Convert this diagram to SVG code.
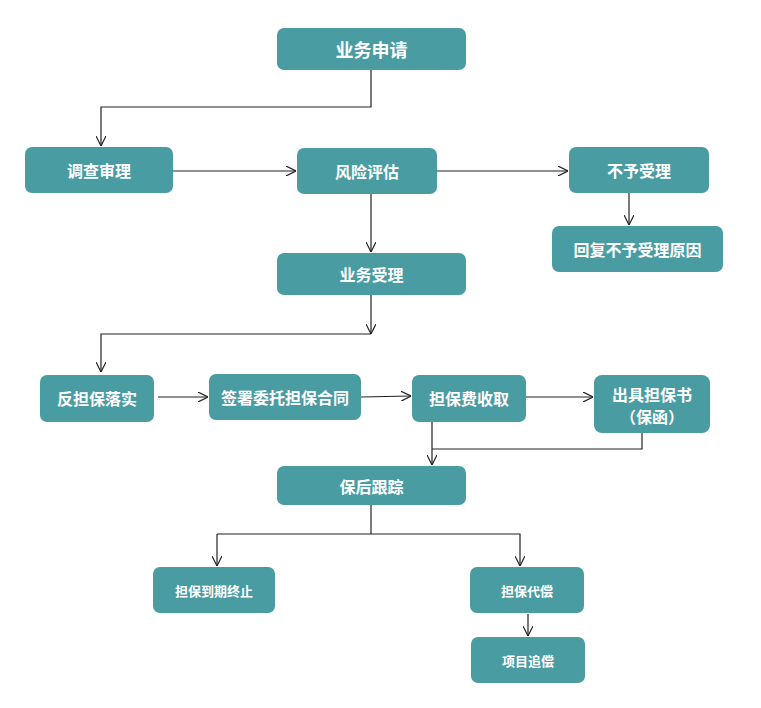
<svg xmlns="http://www.w3.org/2000/svg" width="761" height="708" viewBox="0 0 761 708">
<defs>
<marker id="arr" viewBox="0 0 10 10" refX="10" refY="5" markerWidth="10" markerHeight="10" markerUnits="userSpaceOnUse" orient="auto">
<path d="M0,0 L10,5 L0,10" fill="none" stroke="#222" stroke-width="1.2"/>
</marker>
<style>
.n rect{fill:#4a9ca3;}
.n text{fill:#fff;font-family:"Noto Sans CJK SC","Noto Sans CJK JP",sans-serif;font-weight:bold;text-anchor:middle;dominant-baseline:central;}
.l{font-size:18px;}
.m{font-size:16px;}
.s{font-size:13px;}
.c path{fill:none;stroke:#222;stroke-width:1.2;}
.c .a{marker-end:url(#arr);}
</style>
</defs>
<rect width="761" height="708" fill="#fff"/>
<g class="c">
<path class="a" d="M371,70 V107 H101 V146"/>
<path class="a" d="M173,171 H296"/>
<path class="a" d="M437,171 H568"/>
<path class="a" d="M629,193 V225"/>
<path class="a" d="M371,194 V252"/>
<path class="a" d="M371,295 V334"/>
<path class="a" d="M371,334 H101 V372"/>
<path class="a" d="M158,397 H208"/>
<path class="a" d="M361,397 L411,396"/>
<path class="a" d="M526,397 H593"/>
<path d="M642,433 V449 H432"/>
<path class="a" d="M432,422 V465"/>
<path d="M371,505 V534"/>
<path class="a" d="M217,534 V566"/>
<path class="a" d="M217,534 H520 V566"/>
<path class="a" d="M528,614 V636"/>
</g>
<g id="n1" class="n"><rect x="277" y="28" width="189" height="42" rx="7"/><text class="l" x="371.5" y="49">业务申请</text></g>
<g id="n2" class="n"><rect x="25" y="147" width="148" height="46" rx="7"/><text class="m" x="99" y="170">调查审理</text></g>
<g id="n3" class="n"><rect x="297" y="148" width="140" height="46" rx="7"/><text class="m" x="367" y="171">风险评估</text></g>
<g id="n4" class="n"><rect x="569" y="147" width="140" height="46" rx="7"/><text class="m" x="639" y="170">不予受理</text></g>
<g id="n5" class="n"><rect x="552" y="226" width="171" height="46" rx="7"/><text class="m" x="637.5" y="249">回复不予受理原因</text></g>
<g id="n6" class="n"><rect x="277" y="253" width="189" height="42" rx="7"/><text class="m" x="371.5" y="274">业务受理</text></g>
<g id="n7" class="n"><rect x="40" y="375" width="114" height="47" rx="7"/><text class="m" x="97" y="398">反担保落实</text></g>
<g id="n8" class="n"><rect x="209" y="374" width="152" height="46" rx="7"/><text class="m" x="285" y="397">签署委托担保合同</text></g>
<g id="n9" class="n"><rect x="412" y="375" width="114" height="47" rx="7"/><text class="m" x="469" y="398">担保费收取</text></g>
<g id="n10" class="n"><rect x="594" y="375" width="116" height="58" rx="8"/><text class="m" x="652" y="394">出具担保书</text><text class="m" x="652" y="416">（保函）</text></g>
<g id="n11" class="n"><rect x="277" y="466" width="189" height="39" rx="7"/><text class="m" x="371.5" y="486">保后跟踪</text></g>
<g id="n12" class="n"><rect x="153" y="567" width="122" height="46" rx="7"/><text class="s" x="214" y="590">担保到期终止</text></g>
<g id="n13" class="n"><rect x="470" y="567" width="114" height="46" rx="7"/><text class="s" x="527" y="590">担保代偿</text></g>
<g id="n14" class="n"><rect x="471" y="637" width="114" height="46" rx="7"/><text class="s" x="528" y="660">项目追偿</text></g>
</svg>
